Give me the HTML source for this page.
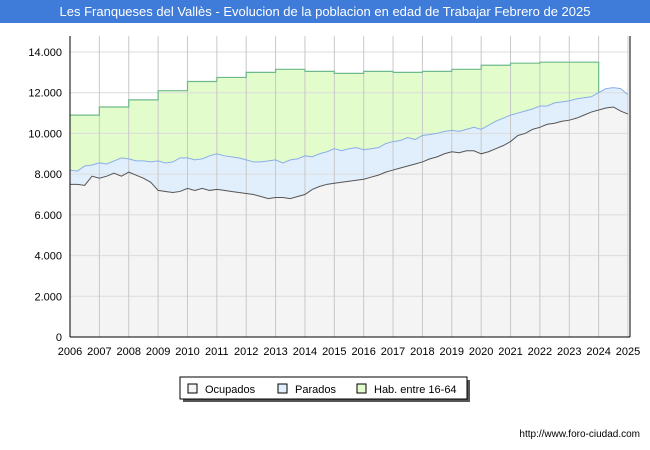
<!DOCTYPE html>
<html><head><meta charset="utf-8"><style>
body{margin:0;width:650px;height:450px;background:#fff;font-family:"Liberation Sans",sans-serif;overflow:hidden}
#t{position:absolute;left:0;top:0;width:650px;height:23px;background:#3f7bd8;color:#fff;font-size:13px;line-height:23px;text-align:center}
</style></head><body>
<div id="t">Les Franqueses del Vallès - Evolucion de la poblacion en edad de Trabajar Febrero de 2025</div>
<svg id="c" width="650" height="450" style="position:absolute;left:0;top:0"></svg>
<script>
const years=[2006,2007,2008,2009,2010,2011,2012,2013,2014,2015,2016,2017,2018,2019,2020,2021,2022,2023,2024,2025];
const hab=[10900,11300,11650,12100,12550,12750,13000,13150,13050,12950,13050,13000,13050,13150,13350,13450,13500,13500];
const activos=[8200,8150,8400,8450,8550,8500,8650,8800,8750,8650,8650,8600,8650,8550,8600,8800,8800,8700,8750,8900,9000,8900,8850,8800,8700,8600,8600,8650,8700,8550,8700,8750,8900,8850,9000,9100,9250,9150,9250,9300,9200,9250,9300,9500,9600,9650,9800,9700,9900,9950,10000,10100,10150,10100,10200,10300,10200,10400,10600,10750,10900,11000,11100,11200,11350,11350,11500,11550,11600,11700,11750,11800,12000,12200,12250,12200,11900];
const ocupados=[7500,7500,7450,7900,7800,7900,8050,7900,8100,7950,7800,7600,7200,7150,7100,7150,7300,7200,7300,7200,7250,7200,7150,7100,7050,7000,6900,6800,6850,6850,6800,6900,7000,7250,7400,7500,7550,7600,7650,7700,7750,7850,7950,8100,8200,8300,8400,8500,8600,8750,8850,9000,9100,9050,9150,9150,9000,9100,9250,9400,9600,9900,10000,10200,10300,10450,10500,10600,10650,10750,10900,11050,11150,11250,11300,11100,10950];
const yTicks=[0,2000,4000,6000,8000,10000,12000,14000];
const X0=70,X1=628,Y0=337;
const X=t=>X0+(t-2006)*(X1-X0)/19;
const Y=v=>Y0-v*285/14000;
const svg=document.getElementById('c');const NS='http://www.w3.org/2000/svg';
function mk(tag,a,name,txt){const e=document.createElementNS(NS,tag);for(const k in a)e.setAttribute(k,a[k]);


if(txt!==undefined)e.textContent=txt;svg.appendChild(e);return e;}
mk('rect',{x:X0,y:36,width:X1-X0+2,height:Y0-36,fill:'#fff'},'plot-area');
// areas
const qt=i=>X(2006+i/4);
let hp='M'+X(2006)+','+Y0;hab.forEach((v,i)=>{hp+=' L'+X(2006+i)+','+Y(v)+' L'+X(2007+i)+','+Y(v);});hp+=' L'+X(2024)+','+Y0+'Z';
mk('path',{d:hp,fill:'#e2fccc',stroke:'none'},'hab-area');
let ap='M'+qt(0)+','+Y0;activos.forEach((v,i)=>ap+=' L'+qt(i)+','+Y(v));ap+=' L'+qt(activos.length-1)+','+Y0+'Z';
mk('path',{d:ap,fill:'#e1effd'},'parados-area');
let op='M'+qt(0)+','+Y0;ocupados.forEach((v,i)=>op+=' L'+qt(i)+','+Y(v));op+=' L'+qt(ocupados.length-1)+','+Y0+'Z';
mk('path',{d:op,fill:'#f4f4f4'},'ocupados-area');
// grid
yTicks.forEach(v=>{mk('line',{x1:X0,x2:X1,y1:Y(v),y2:Y(v),stroke:'#dcdcdc'},'y-gridline');
mk('text',{x:X0-8,y:Y(v)+4,'text-anchor':'end','font-size':11,fill:'#000'},'y-tick-label',v.toLocaleString('de-DE'));});
years.forEach(y=>{if(y>2006)mk('line',{x1:X(y),x2:X(y),y1:36,y2:Y0,stroke:'#c8c8c8'},'x-gridline');
mk('text',{x:X(y),y:355,'text-anchor':'middle','font-size':11,fill:'#000'},'x-tick-label',y);});
// lines
let hl='';hab.forEach((v,i)=>{hl+=(i?' L':'M')+X(2006+i)+','+Y(v)+' L'+X(2007+i)+','+Y(v);});hl+=' L'+X(2024)+','+Y(activos[72]);
mk('path',{d:hl,fill:'none',stroke:'#6fba8c','stroke-width':1.2},'hab-line');
mk('polyline',{points:activos.map((v,i)=>qt(i)+','+Y(v)).join(' '),fill:'none',stroke:'#8aaee8','stroke-width':1},'parados-line');
mk('polyline',{points:ocupados.map((v,i)=>qt(i)+','+Y(v)).join(' '),fill:'none',stroke:'#555','stroke-width':1},'ocupados-line');
mk('line',{x1:X0,x2:X0,y1:36,y2:Y0,stroke:'#000'},'y-axis');
mk('line',{x1:X1+2,x2:X1+2,y1:36,y2:Y0,stroke:'#000'},'right-border');
mk('line',{x1:X0,x2:X1+2,y1:Y0,y2:Y0,stroke:'#000'},'x-axis');
// legend
mk('rect',{x:183,y:380,width:287,height:22,fill:'#555'},'legend-shadow');
mk('rect',{x:180,y:377,width:287,height:22,fill:'#fff',stroke:'#000'},'legend-box');
[['Ocupados','#f4f4f4',188],['Parados','#e1effd',278],['Hab. entre 16-64','#e2fccc',357]].forEach(([n,c,x])=>{
mk('rect',{x:x,y:384,width:9,height:9,fill:c,stroke:'#000'},'legend-swatch');
mk('text',{x:x+17,y:393,'font-size':11},'legend-entry',n);});
mk('text',{x:640,y:437,'text-anchor':'end','font-size':10},'source-url','http://www.foro-ciudad.com');
</script>
</body></html>
